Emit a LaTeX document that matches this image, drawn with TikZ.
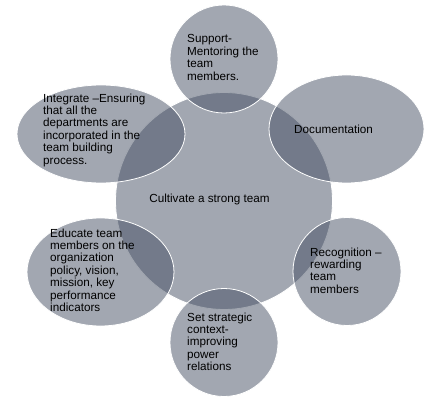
\documentclass[tikz,border=0pt]{standalone}
\usepackage{fontspec}
\setmainfont{Liberation Sans}
\definecolor{slate}{RGB}{69,79,99}
\begin{document}
\begin{tikzpicture}[x=1pt,y=-1pt,
  blob/.style={fill=slate,fill opacity=0.5,draw=white,draw opacity=1,line width=0.8pt},
  lbl/.style={anchor=north west,inner sep=0pt,align=left,text=black,
    font=\fontsize{11.7}{12.4}\selectfont}]
\useasboundingbox (0,0) rectangle (439,406);
% shapes
\path[blob] (224,201) circle[radius=108.5];
\path[blob] (224,59) circle[radius=54];
\path[blob] (346.5,129) ellipse[x radius=77.5,y radius=54];
\path[blob] (101,134) ellipse[x radius=84,y radius=49];
\path[blob] (100.5,272) ellipse[x radius=73.5,y radius=54];
\path[blob] (347,271.5) circle[radius=54];
\path[blob] (224,342.5) circle[radius=54];
% labels
\node[anchor=center,inner sep=0pt,font=\fontsize{11.7}{12.4}\selectfont] (center) at (209.5,199.5) {Cultivate a strong team};
\node[lbl] (support) at (187,34.5) {Support-\\Mentoring the\\team\\members.};
\node[lbl] (integrate) at (43,93.5) {Integrate –Ensuring\\that all the\\departments are\\incorporated in the\\team building\\process.};
\node[anchor=west,inner sep=0pt,font=\fontsize{11.7}{12.4}\selectfont] (doc) at (294,129) {Documentation};
\node[lbl] (educate) at (50,228.5) {Educate team\\members on the\\organization\\policy, vision,\\mission, key\\performance\\indicators};
\node[lbl] (recog) at (310,247.5) {Recognition –\\rewarding\\team\\members};
\node[lbl] (set) at (187,312.5) {Set strategic\\context-\\improving\\power\\relations};
\end{tikzpicture}
\end{document}
